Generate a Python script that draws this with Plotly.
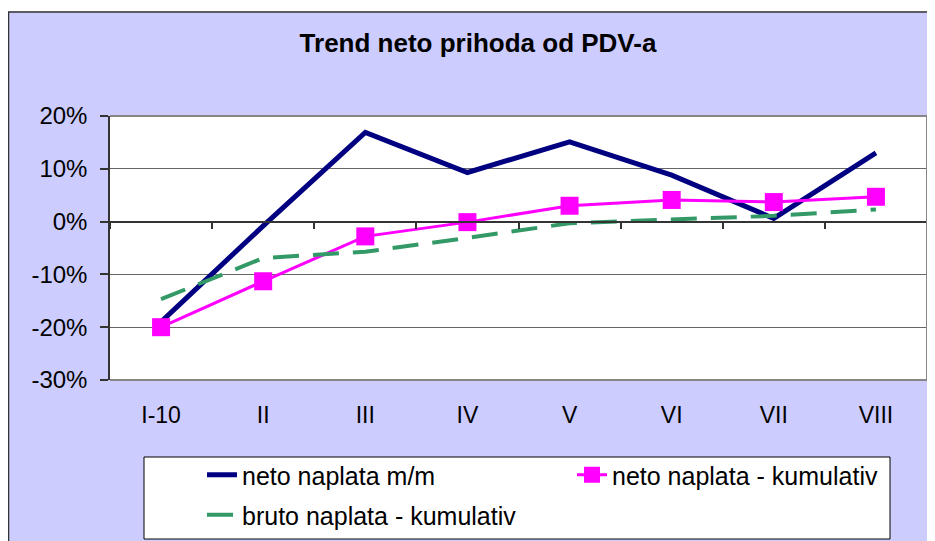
import plotly.graph_objects as go

# ---- data ----
categories = ["I-10", "II", "III", "IV", "V", "VI", "VII", "VIII"]
neto_mm = [-0.190, -0.008, 0.169, 0.093, 0.151, 0.088, 0.006, 0.130]
neto_kum = [-0.200, -0.113, -0.028, -0.001, 0.030, 0.041, 0.037, 0.047]
bruto_kum = [-0.147, -0.069, -0.057, -0.031, -0.003, 0.004, 0.011, 0.023]
y_tick_vals = [-0.3, -0.2, -0.1, 0.0, 0.1, 0.2]
y_tick_text = ["-30%", "-20%", "-10%", "0%", "10%", "20%"]
title_text = "Trend neto prihoda od PDV-a"
series_names = ["neto naplata m/m", "neto naplata - kumulativ", "bruto naplata - kumulativ"]

# ---- geometry (page pixels; the figure sits at an 8px page offset) ----
W, H = 935, 541
OFF = 8
PLOT_L, PLOT_R, PLOT_T, PLOT_B = 110, 927, 116, 380
L, R, T, B = PLOT_L - OFF, W - (PLOT_R - OFF), PLOT_T - OFF, H - (PLOT_B - OFF)
PW, PH = W - L - R, H - T - B
FONT = "Liberation Sans, Arial, sans-serif"


def px(x):
    return (x - PLOT_L) / PW


def py(y):
    return (PLOT_B - y) / PH


def cx(x):
    return (x - OFF) / W


def cy(y):
    return 1 - (y - OFF) / H


fig = go.Figure()
fig.add_trace(go.Scatter(x=categories, y=neto_mm, name=series_names[0], mode="lines",
                         line=dict(color="#000080", width=5), legend="legend"))
fig.add_trace(go.Scatter(x=categories, y=neto_kum, name=series_names[1], mode="lines+markers",
                         line=dict(color="#FF00FF", width=3),
                         marker=dict(symbol="square", size=18, color="#FF00FF"),
                         legend="legend2"))
fig.add_trace(go.Scatter(x=categories, y=bruto_kum, name=series_names[2], mode="lines",
                         line=dict(color="#339966", width=4, dash="26px,14px"),
                         legend="legend3"))
# helper trace carrying the zero-line axis (ticks between categories)
fig.add_trace(go.Scatter(x=categories, y=neto_kum, xaxis="x2", mode="markers",
                         marker=dict(opacity=0), showlegend=False, hoverinfo="skip"))

shapes = [
    # white strip above the outer frame, and the outer frame
    dict(type="rect", xref="paper", yref="paper", x0=px(-20), x1=px(W + 40), y0=py(-20), y1=py(11.5),
         fillcolor="white", line=dict(width=0), layer="below"),
    dict(type="rect", xref="paper", yref="paper", x0=px(8.5), x1=px(W + 40), y0=py(12), y1=py(H + 40),
         fillcolor="rgba(0,0,0,0)", line=dict(color="#333333", width=1.5), layer="below"),
    # plot area frame (top, right, bottom)
    dict(type="path", xref="paper", yref="paper",
         path="M 0,1 L 1,1 L 1,0 L 0,0", line=dict(color="#868686", width=2), layer="above"),
    # legend box
    dict(type="rect", xref="paper", yref="paper", x0=px(144), x1=px(890), y0=py(457), y1=py(539),
         fillcolor="white", line=dict(color="#000000", width=1), layer="above"),
]

leg_common = dict(xref="container", yref="container", xanchor="left", yanchor="middle",
                  bgcolor="rgba(0,0,0,0)", borderwidth=0,
                  font=dict(family=FONT, size=25, color="#000000"))

fig.update_layout(
    width=W, height=H,
    margin=dict(l=L, r=R, t=T, b=B, pad=0, autoexpand=False),
    paper_bgcolor="#CCCCFF",
    plot_bgcolor="#FFFFFF",
    font=dict(family=FONT, color="#000000"),
    title=dict(text=f"<b>{title_text}</b>", x=cx(478), xanchor="center", y=cy(43), yanchor="middle",
               font=dict(family=FONT, size=26, color="#000000")),
    xaxis=dict(type="category", range=[-0.5, 7.5], showgrid=False, showline=False, ticks="",
               tickfont=dict(family=FONT, size=23, color="#000000"), ticklabelstandoff=19,
               tickangle=0, automargin=False, fixedrange=True),
    xaxis2=dict(type="category", overlaying="x", anchor="free", position=0.6, range=[-0.5, 7.5],
                showgrid=False, showline=True, linecolor="#333333", linewidth=1.5,
                ticks="outside", tickson="boundaries", ticklen=7, tickcolor="#333333", tickwidth=1.5,
                showticklabels=False, automargin=False, fixedrange=True),
    yaxis=dict(range=[-0.3, 0.2], tickvals=y_tick_vals, ticktext=y_tick_text,
               showgrid=True, gridcolor="#666666", gridwidth=1, zeroline=False,
               showline=True, linecolor="#333333", linewidth=1.5,
               ticks="outside", ticklen=8, tickcolor="#333333", tickwidth=1.5,
               tickfont=dict(family=FONT, size=24, color="#000000"), ticklabelstandoff=8,
               automargin=False, fixedrange=True),
    legend=dict(x=cx(202), y=cy(475), **leg_common),
    legend2=dict(x=cx(572), y=cy(475), **leg_common),
    legend3=dict(x=cx(202), y=cy(515), **leg_common),
    shapes=shapes,
    showlegend=True,
)

fig.write_html("out.html")
